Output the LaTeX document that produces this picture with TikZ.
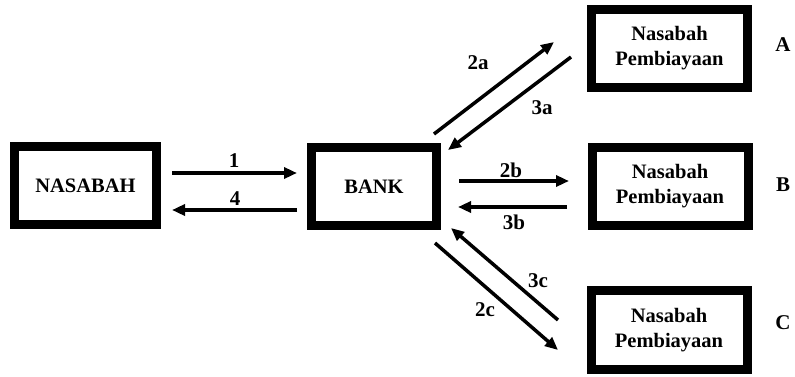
\documentclass[tikz,border=0pt]{standalone}
\usepackage{fontspec}
\setmainfont{Liberation Serif}
\usetikzlibrary{arrows.meta,calc}
\begin{document}
\begin{tikzpicture}[x=1pt,y=-1pt,
 box/.style={draw,line width=9pt,minimum width=156pt,minimum height=78pt,inner sep=0pt,align=center,font=\bfseries\fontsize{20.5}{25}\selectfont},
 arr/.style={line width=3.5pt,-{Triangle[length=13pt,width=11pt]}},
 lbl/.style={font=\bfseries\fontsize{21}{22}\selectfont,inner sep=0pt}]
\useasboundingbox (0,0) rectangle (795,376);
% boxes
\node[box,minimum width=142pt] (nas) at (85.5,185.5) {NASABAH};
\node[box,minimum width=125pt] (bank) at (374,186.5) {BANK};
\node[box] (na) at (669.5,48.5) {Nasabah\\Pembiayaan};
\node[box] (nb) at (670,186.5) {Nasabah\\Pembiayaan};
\node[box,minimum height=79pt] (nc) at (669,330) {Nasabah\\Pembiayaan};
% side letters
\node[lbl] (la) at (783,45) {A};
\node[lbl] (lb) at (783,185) {B};
\node[lbl] (lc) at (783,323) {C};
% arrow end points
\coordinate (s1) at (172,173); \coordinate (e1) at (297,173);
\coordinate (s4) at (297,210); \coordinate (e4) at (172,210);
\coordinate (s2a) at (434,134); \coordinate (e2a) at (554,42);
\coordinate (s3a) at (571,57); \coordinate (e3a) at (448,150);
\coordinate (s2b) at (459,181); \coordinate (e2b) at (569,181);
\coordinate (s3b) at (567,207); \coordinate (e3b) at (458,207);
\coordinate (s2c) at (435,243); \coordinate (e2c) at (558,350);
\coordinate (s3c) at (558,320); \coordinate (e3c) at (451,228);
% arrows
\draw[arr] (s1) -- (e1);
\draw[arr] (s4) -- (e4);
\draw[arr] (s2a) -- (e2a);
\draw[arr] (s3a) -- (e3a);
\draw[arr] (s2b) -- (e2b);
\draw[arr] (s3b) -- (e3b);
\draw[arr] (s2c) -- (e2c);
\draw[arr] (s3c) -- (e3c);
% labels
\node[lbl] (t1) at (234,161) {1};
\node[lbl] (t4) at (235,199) {4};
\node[lbl] (t2a) at (478,63) {2a};
\node[lbl] (t3a) at (542,108) {3a};
\node[lbl] (t2b) at (511,170) {2b};
\node[lbl] (t3b) at (514,222) {3b};
\node[lbl] (t2c) at (485,310) {2c};
\node[lbl] (t3c) at (538,281) {3c};
\end{tikzpicture}
\end{document}
